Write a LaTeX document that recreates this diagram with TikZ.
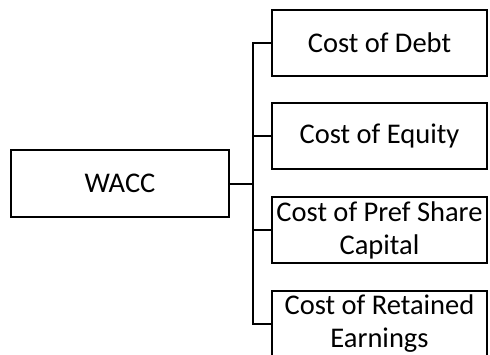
\documentclass[tikz,border=0pt]{standalone}
\usepackage{fontspec}
\setmainfont{Carlito}

\begin{document}
\begin{tikzpicture}[x=1pt,y=-1pt,
    box/.style={draw,line width=2pt,rectangle,inner sep=0pt,align=center,
      font=\fontsize{28.5}{33}\selectfont},
    rootbox/.style={box,minimum width=218pt,minimum height=67pt},
    costbox/.style={box,minimum width=215pt,minimum height=66pt},
    link/.style={line width=2pt}]
  \clip (0,0) rectangle (490,354);
  \useasboundingbox (0,0) rectangle (490,354);
  \node[rootbox] (wacc) at (120,183.5) {WACC};
  \node[costbox] (debt)   at (379.5,42.5) {Cost of Debt};
  \node[costbox] (equity) at (379.5,136)  {Cost of Equity};
  \node[costbox] (pref)   at (379.5,230)  {Cost of Pref Share\\Capital};
  \node[costbox] (retain) at (379.5,324)  {Cost of Retained\\Earnings};
  % tree connectors
  \foreach \c in {debt,equity,pref,retain}
    \draw[link] (wacc.east) -- ++(23,0) |- (\c.west);
\end{tikzpicture}
\end{document}
